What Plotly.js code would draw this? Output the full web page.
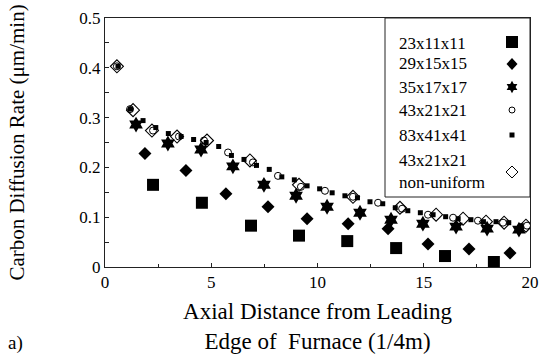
<!DOCTYPE html>
<html>
<head>
<meta charset="utf-8">
<script src="https://cdn.plot.ly/plotly-3.0.1.min.js"></script>
<style>
html,body{margin:0;padding:0;background:#fff;}
#chart{width:545px;height:354px;}
</style>
</head>
<body>
<div id="chart"></div>
<script>
// Series names
const seriesNames = ["23x11x11", "29x15x15", "35x17x17", "43x21x21", "83x41x41", "43x21x21<br>non-uniform"];

// 23x11x11
const x1 = [2.26, 4.56, 6.87, 9.13, 11.4, 13.7, 16.0, 18.3];
const y1 = [0.165, 0.129, 0.083, 0.063, 0.052, 0.038, 0.022, 0.010];

// 29x15x15
const x2 = [1.88, 3.81, 5.69, 7.67, 9.51, 11.44, 13.32, 15.2, 17.13, 19.06];
const y2 = [0.228, 0.194, 0.147, 0.121, 0.097, 0.087, 0.077, 0.046, 0.036, 0.028];

// 35x17x17
const x3 = [1.46, 2.96, 4.52, 6.02, 7.48, 8.99, 10.45, 12.0, 13.46, 14.96, 16.52, 17.98, 19.48];
const y3 = [0.286, 0.248, 0.236, 0.202, 0.165, 0.143, 0.121, 0.109, 0.095, 0.087, 0.081, 0.077, 0.075];

// 43x21x21
const x4 = [0.56, 1.18, 2.26, 3.48, 4.66, 5.79, 6.96, 8.14, 9.22, 10.35, 11.67, 12.85, 13.98, 15.2, 16.38, 17.55, 18.73, 19.86];
const y4 = [0.403, 0.317, 0.274, 0.262, 0.254, 0.230, 0.210, 0.183, 0.161, 0.153, 0.141, 0.129, 0.117, 0.105, 0.099, 0.093, 0.089, 0.083];

// 83x41x41
const x5 = [0.61, 1.20, 1.79, 2.39, 2.98, 3.58, 4.17, 4.76, 5.35, 5.95, 6.54, 7.13, 7.73, 8.32, 8.91, 9.51, 10.10, 10.69, 11.29, 11.88, 12.47, 13.07, 13.66, 14.25, 14.84, 15.44, 16.03, 16.62, 17.22, 17.81, 18.40, 19.00, 19.59];
const y5 = [0.403, 0.317, 0.294, 0.280, 0.268, 0.262, 0.256, 0.250, 0.242, 0.224, 0.216, 0.204, 0.196, 0.181, 0.175, 0.163, 0.157, 0.149, 0.143, 0.139, 0.131, 0.127, 0.119, 0.113, 0.109, 0.105, 0.101, 0.097, 0.095, 0.091, 0.091, 0.089, 0.083];

// 43x21x21 non-uniform
const x6 = [0.56, 1.32, 2.21, 3.39, 4.8, 6.82, 9.13, 11.67, 13.88, 15.58, 16.85, 17.93, 18.78, 19.81];
const y6 = [0.403, 0.315, 0.274, 0.262, 0.254, 0.214, 0.165, 0.141, 0.119, 0.105, 0.097, 0.091, 0.089, 0.083];

// Axis tick values / labels
const xTickVals = [0, 5, 10, 15, 20];
const xTickText = ["0", "5", "10", "15", "20"];
const yTickVals = [0, 0.1, 0.2, 0.3, 0.4, 0.5];
const yTickText = ["0", "0.1", "0.2", "0.3", "0.4", "0.5"];

const FONT = "Liberation Serif";

const traces = [
  {x: x1, y: y1, name: seriesNames[0], mode: "markers", type: "scatter",
   marker: {symbol: "square", size: 12, color: "#000"}},
  {x: x2, y: y2, name: seriesNames[1], mode: "markers", type: "scatter",
   marker: {symbol: "diamond", size: 10, color: "#000"}},
  {x: x3, y: y3, name: seriesNames[2], mode: "markers", type: "scatter",
   marker: {symbol: "hexagram", size: 12, color: "#000"}},
  {x: x4, y: y4, name: seriesNames[3], mode: "markers", type: "scatter",
   marker: {symbol: "circle", size: 7, color: "#fff", line: {color: "#000", width: 1}}},
  {x: x5, y: y5, name: seriesNames[4], mode: "markers", type: "scatter",
   marker: {symbol: "square", size: 5, color: "#000"}},
  {x: x6, y: y6, name: seriesNames[5], mode: "markers", type: "scatter",
   marker: {symbol: "diamond-open", size: 10, color: "#000", line: {color: "#000", width: 1.1}}}
];

// ---- custom legend (text left, key symbol right), in pixel -> paper conversions ----
const PX = px => (px - 105) / 425;
const PY = py => (267 - py) / 249;
const legTextY = [43, 64, 87, 110, 135, 172];
const keyY = [42, 64, 87, 110, 135, 172];
const keyX = 512;
const annotations = [];
seriesNames.forEach((n, i) => {
  annotations.push({xref: "paper", yref: "paper", x: PX(397), y: PY(legTextY[i]),
    xanchor: "left", yanchor: "middle", text: n, showarrow: false, align: "left",
    font: {family: FONT, size: 17, color: "#000"}});
});
annotations.push({xref: "paper", yref: "paper", x: PX(6), y: PY(343),
  xanchor: "left", yanchor: "middle", text: "a)", showarrow: false,
  font: {family: FONT, size: 19, color: "#000"}});

function polyPath(pts) {
  return "M" + pts.map(p => PX(p[0]).toFixed(5) + "," + PY(p[1]).toFixed(5)).join("L") + "Z";
}
function keyShapes() {
  const s = [];
  const black = {line: {width: 0}, fillcolor: "#000"};
  // big square
  s.push(Object.assign({type: "rect", xref: "paper", yref: "paper",
    x0: PX(keyX - 6), x1: PX(keyX + 6), y0: PY(keyY[0] + 6), y1: PY(keyY[0] - 6)}, black));
  // filled diamond
  let cy = keyY[1];
  s.push(Object.assign({type: "path", xref: "paper", yref: "paper",
    path: polyPath([[keyX, cy - 6], [keyX + 5.5, cy], [keyX, cy + 6], [keyX - 5.5, cy]])}, black));
  // hexagram (single 12-point outline)
  cy = keyY[2];
  const ro = 6.2, ri = ro / Math.sqrt(3), pts = [];
  for (let k = 0; k < 12; k++) {
    const ang = -Math.PI / 2 + k * Math.PI / 6;
    const rr = (k % 2 === 0) ? ro : ri;
    pts.push([keyX + rr * Math.cos(ang), cy + rr * Math.sin(ang)]);
  }
  s.push(Object.assign({type: "path", xref: "paper", yref: "paper", path: polyPath(pts)}, black));
  // open circle
  cy = keyY[3];
  s.push({type: "circle", xref: "paper", yref: "paper",
    x0: PX(keyX - 3), x1: PX(keyX + 3), y0: PY(cy + 3), y1: PY(cy - 3),
    line: {color: "#000", width: 1}, fillcolor: "#fff"});
  // small square
  cy = keyY[4];
  s.push(Object.assign({type: "rect", xref: "paper", yref: "paper",
    x0: PX(keyX - 2.5), x1: PX(keyX + 2.5), y0: PY(cy + 2.5), y1: PY(cy - 2.5)}, black));
  // open diamond
  cy = keyY[5];
  s.push({type: "path", xref: "paper", yref: "paper",
    path: polyPath([[keyX, cy - 6], [keyX + 6, cy], [keyX, cy + 6], [keyX - 6, cy]]),
    line: {color: "#000", width: 1}, fillcolor: "rgba(0,0,0,0)"});
  return s;
}

const layout = {
  width: 545, height: 354,
  margin: {l: 105, r: 15, t: 18, b: 87, pad: 0},
  paper_bgcolor: "#fff", plot_bgcolor: "#fff",
  showlegend: false,
  font: {family: FONT, color: "#000"},
  xaxis: {
    range: [0, 20], tickvals: xTickVals, ticktext: xTickText,
    ticks: "inside", ticklen: 4, tickcolor: "#222",
    minor: {dtick: 2.5, ticks: "inside", ticklen: 3, tickcolor: "#222"},
    showline: true, linecolor: "#222", linewidth: 1, mirror: true,
    showgrid: false, zeroline: false,
    tickfont: {family: FONT, size: 17, color: "#000"},
    title: {text: "Axial Distance from Leading<br>Edge of  Furnace (1/4m)", standoff: 13,
            font: {family: FONT, size: 23, color: "#000"}},
    automargin: false
  },
  yaxis: {
    range: [0, 0.5], tickvals: yTickVals, ticktext: yTickText,
    ticks: "inside", ticklen: 4, tickcolor: "#222",
    minor: {dtick: 0.05, ticks: "inside", ticklen: 4, tickcolor: "#222"},
    showline: true, linecolor: "#222", linewidth: 1, mirror: true,
    showgrid: false, zeroline: false,
    tickfont: {family: FONT, size: 17, color: "#000"},
    title: {text: "Carbon Diffusion Rate (\u03BCm/min)", standoff: 48,
            font: {family: FONT, size: 21, color: "#000"}},
    automargin: false
  },
  shapes: [
    {type: "rect", xref: "paper", yref: "paper", x0: PX(385), x1: 1,
     y0: PY(197), y1: 1, line: {color: "#222", width: 1}, fillcolor: "#fff", layer: "below"}
  ].concat(keyShapes()),
  annotations: annotations
};

Plotly.newPlot("chart", traces, layout, {staticPlot: true, displayModeBar: false});
</script>
</body>
</html>
